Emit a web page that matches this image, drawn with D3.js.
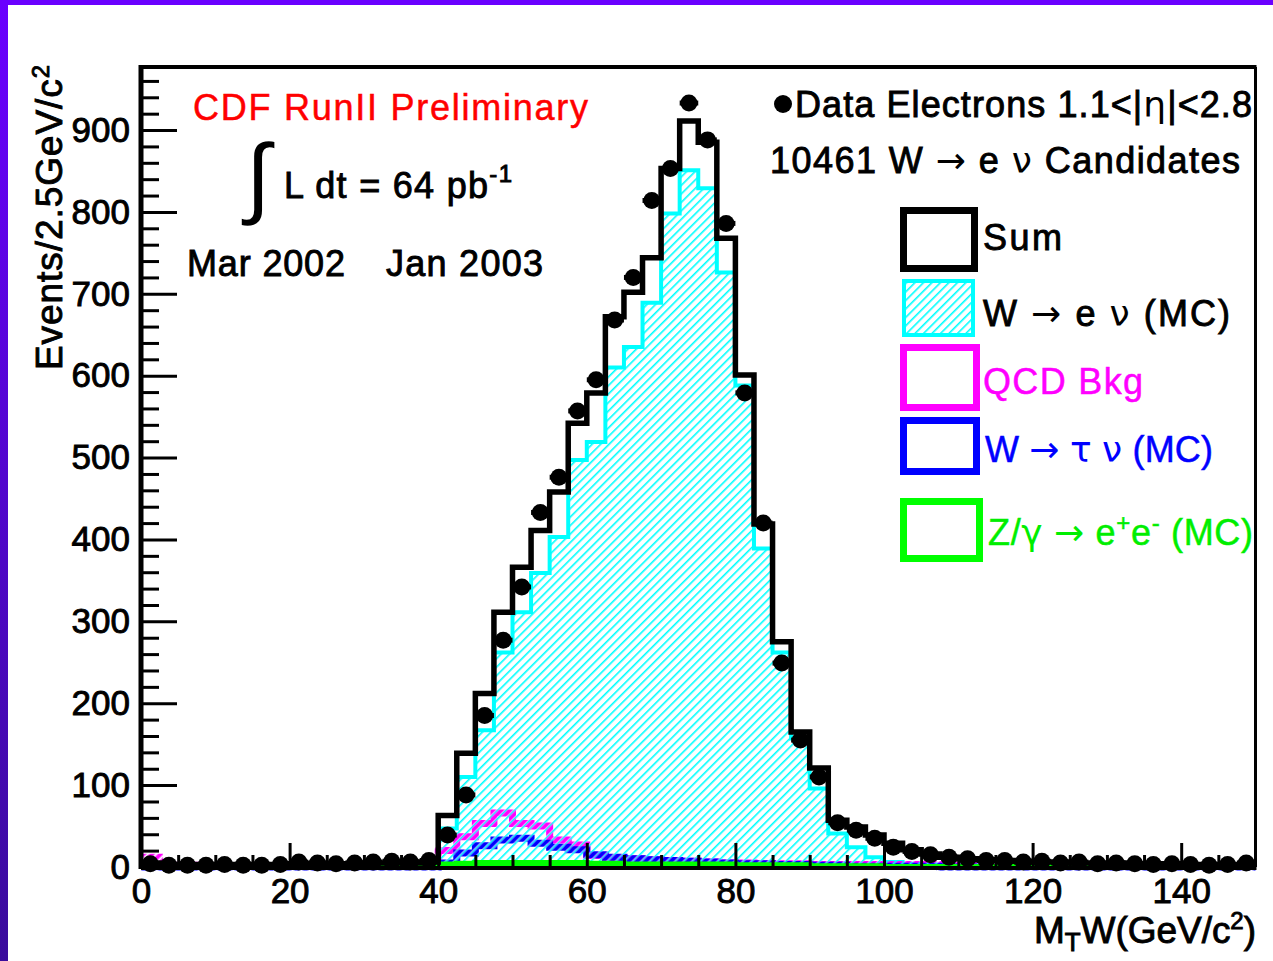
<!DOCTYPE html>
<html><head><meta charset="utf-8">
<script src="https://cdn.jsdelivr.net/npm/d3@7"></script>
<style>
html,body{margin:0;padding:0;background:#fff;}
svg{display:block;}
text{font-family:"Liberation Sans",Arial,Helvetica,sans-serif;}
</style></head><body>
<svg id="chart" width="1273" height="961"></svg>
<script>
// Transverse mass histogram, 2.5 GeV/c^2 bins from 0 to 150
const binWidth = 2.5;
const xDomain = [0, 150];
const yDomain = [0, 977];
const xMajorTicks = [0, 20, 40, 60, 80, 100, 120, 140];
const yMajorTicks = [0, 100, 200, 300, 400, 500, 600, 700, 800, 900];

// Data: electrons 1.1<|eta|<2.8 (events per bin)
const dataCounts = [4,2,2,2,3,2,2,3,6,5,4,5,6,7,6,8,
  39,88,185,277,342,433,476,557,595,668,720,814,853,933,888,786,579,420,249,155,110,54,45,35,
  24,19,15,12,10,8,8,6,7,5,6,4,5,4,3,4,3,2,3,5];
// Sum of predictions
const sumCounts = [5,3,3,3,3,3,3,3,4,4,4,4,5,5,5,6,
  63,139,212,311,366,411,458,542,579,672,702,744,853,911,885,768,601,419,275,165,121,57,49,39,
  29,21,16,12,10,9,8,7,6,6,5,5,5,4,4,4,3,3,3,3];
// W -> e nu (MC)
const wenuCounts = [0,0,0,0,0,0,0,0,1,1,1,1,1,1,1,2,
  47,110,167,262,311,359,403,497,519,610,635,689,798,851,829,726,588,389,262,157,96,41,24,12,
  6,4,3,2,2,1,1,1,1,0,0,0,0,0,0,0,0,0,0,0];
// QCD background
const qcdCounts = [12,2,2,1,1,1,1,1,1,1,2,1,1,2,1,2,
  20,37,53,66,53,50,33,27,14,11,10,9,8,7,6,5,5,4,4,4,3,3,3,3,
  3,3,3,2,2,2,2,2,2,2,2,2,1,1,1,1,1,1,1,1];
// W -> tau nu (MC)
const wtaunuCounts = [0,0,0,0,0,0,0,0,0,0,0,0,0,0,0,0,
  5,17,26,33,35,29,24,21,15,12,10,9,8,7,6,5,4,4,3,3,2,2,1,1,
  1,1,1,0,0,0,0,0,0,0,0,0,0,0,0,0,0,0,0,0];
// Z/gamma -> e+e- (MC)
const zeeCounts = [0,0,0,0,0,0,0,0,0,0,0,0,0,0,0,0,
  3,4,5,5,5,5,5,5,4,4,3,3,3,3,3,3,2,2,2,2,1,1,1,1,
  0,0,0,0,0,0,0,0,0,0,0,0,0,0,0,0,0,0,0,0];

const svg = d3.select('#chart');
const defs = svg.append('defs');

const grad = defs.append('linearGradient').attr('id', 'edgeGrad')
  .attr('x1', 0).attr('y1', 0).attr('x2', 0).attr('y2', 1);
grad.append('stop').attr('offset', '0%').attr('stop-color', '#6a00ff');
grad.append('stop').attr('offset', '100%').attr('stop-color', '#3a0c9c');

// hatch fill for W -> e nu
const hc = defs.append('pattern').attr('id', 'hatchCyan').attr('patternUnits', 'userSpaceOnUse')
  .attr('width', 6).attr('height', 6).attr('patternTransform', 'rotate(45)');
hc.append('rect').attr('width', 6).attr('height', 6).attr('fill', '#fff');
hc.append('rect').attr('width', 1.6).attr('height', 6).attr('fill', '#00ffff');

function stripePattern(id, color) {
  const p = defs.append('pattern').attr('id', id).attr('patternUnits', 'userSpaceOnUse')
    .attr('width', 6).attr('height', 6).attr('patternTransform', 'rotate(45)');
  p.append('rect').attr('x', 1.5).attr('width', 4).attr('height', 6).attr('fill', color);
}
stripePattern('stripeMagenta', '#ff00ff');
stripePattern('stripeBlue', '#0000ff');

// page background and border
svg.append('rect').attr('width', 1273).attr('height', 961).attr('fill', '#fff');
svg.append('rect').attr('x', 0).attr('y', 0).attr('width', 8).attr('height', 961).attr('fill', 'url(#edgeGrad)');
svg.append('rect').attr('x', 0).attr('y', 0).attr('width', 1273).attr('height', 5).attr('fill', '#6a00ff');

const x = d3.scaleLinear().domain(xDomain).range([141, 1255.5]);
const y = d3.scaleLinear().domain(yDomain).range([867, 67]);

const toPoints = vals => {
  const pts = vals.map((v, i) => [i * binWidth, v]);
  pts.push([vals.length * binWidth, vals[vals.length - 1]]);
  return pts;
};
const stepLine = d3.line().curve(d3.curveStepAfter).x(d => x(d[0])).y(d => y(d[1]));
const stepArea = d3.area().curve(d3.curveStepAfter).x(d => x(d[0])).y0(y(0)).y1(d => y(d[1]));

const plot = svg.append('g');

// W -> e nu : hatched area with cyan outline
plot.append('path').attr('d', stepArea(toPoints(wenuCounts))).attr('fill', 'url(#hatchCyan)');
plot.append('path').attr('d', stepLine(toPoints(wenuCounts))).attr('fill', 'none')
  .attr('stroke', '#00ffff').attr('stroke-width', 4);

// backgrounds
plot.append('path').attr('d', stepLine(toPoints(qcdCounts))).attr('fill', 'none')
  .attr('stroke', 'url(#stripeMagenta)').attr('stroke-width', 7);
plot.append('path').attr('d', stepLine(toPoints(wtaunuCounts))).attr('fill', 'none')
  .attr('stroke', 'url(#stripeBlue)').attr('stroke-width', 7);
plot.append('path').attr('d', stepLine(toPoints(zeeCounts))).attr('fill', 'none')
  .attr('stroke', '#00ff00').attr('stroke-width', 6);

// sum
plot.append('path').attr('d', stepLine(toPoints(sumCounts))).attr('fill', 'none')
  .attr('stroke', '#000').attr('stroke-width', 5.5).attr('stroke-linejoin', 'miter');

// data points with bin-width bars
const pts = plot.append('g');
pts.selectAll('line').data(dataCounts).join('line')
  .attr('x1', (d, i) => x(i * binWidth)).attr('x2', (d, i) => x((i + 1) * binWidth))
  .attr('y1', d => y(d)).attr('y2', d => y(d)).attr('stroke', '#000').attr('stroke-width', 5);
pts.selectAll('circle').data(dataCounts).join('circle')
  .attr('cx', (d, i) => x((i + 0.5) * binWidth)).attr('cy', d => y(d)).attr('r', 8.5).attr('fill', '#000');

// axes (ticks inside the frame)
const yMinor = d3.range(20, 977, 20).filter(v => v % 100 !== 0);
const xMinor = d3.range(5, 150, 5).filter(v => v % 20 !== 0);

const yAxis = svg.append('g').attr('transform', `translate(${x(0)},0)`)
  .call(d3.axisLeft(y).tickValues(yMajorTicks).tickSize(-36).tickPadding(11).tickFormat(d3.format('d')));
const yAxisMinor = svg.append('g').attr('transform', `translate(${x(0)},0)`)
  .call(d3.axisLeft(y).tickValues(yMinor).tickSize(-18).tickFormat(''));
const xAxis = svg.append('g').attr('transform', `translate(0,${y(0)})`)
  .call(d3.axisBottom(x).tickValues(xMajorTicks).tickSize(-24).tickPadding(11).tickFormat(d3.format('d')));
const xAxisMinor = svg.append('g').attr('transform', `translate(0,${y(0)})`)
  .call(d3.axisBottom(x).tickValues(xMinor).tickSize(-12).tickFormat(''));

[yAxis, yAxisMinor, xAxis, xAxisMinor].forEach(g => {
  g.select('.domain').remove();
  g.selectAll('.tick line').attr('stroke', '#000').attr('stroke-width', 3);
  g.selectAll('.tick text').attr('font-size', 35).attr('fill', '#000')
    .attr('font-family', '"Liberation Sans",Arial,sans-serif')
    .attr('stroke', '#000').attr('stroke-width', 0.9);
});

// frame
const fr = svg.append('g').attr('stroke', '#000').attr('fill', 'none');
fr.append('line').attr('x1', x(0)).attr('x2', x(150) + 1).attr('y1', y(977)).attr('y2', y(977)).attr('stroke-width', 4);
fr.append('line').attr('x1', x(150)).attr('x2', x(150)).attr('y1', y(977)).attr('y2', y(0)).attr('stroke-width', 3);
fr.append('line').attr('x1', x(0)).attr('x2', x(0)).attr('y1', y(977) - 2).attr('y2', y(0) + 2).attr('stroke-width', 5);
fr.append('line').attr('x1', x(0)).attr('x2', x(150) + 1).attr('y1', y(0) + 1).attr('y2', y(0) + 1).attr('stroke-width', 4);

// text helper
function label(px, py, parts, opts) {
  const t = svg.append('text').attr('x', px).attr('y', py)
    .attr('font-size', opts.size).attr('fill', opts.color || '#000')
    .attr('stroke', opts.color || '#000').attr('stroke-width', opts.thick === undefined ? 0.9 : opts.thick)
    .attr('text-anchor', opts.anchor || 'start');
  if (opts.length) t.attr('textLength', opts.length).attr('lengthAdjust', 'spacing');
  if (opts.transform) t.attr('transform', opts.transform);
  parts.forEach(p => {
    const s = typeof p === 'string' ? { t: p } : p;
    const ts = t.append('tspan').text(s.t);
    if (s.dy) ts.attr('dy', s.dy);
    if (s.fs) ts.attr('font-size', s.fs);
    if (s.thin) ts.attr('stroke-width', 0).attr('font-family', '"DejaVu Sans",sans-serif');
  });
  return t;
}

// axis titles
label(0, 0, ['Events/2.5GeV/c', { t: '2', dy: -13, fs: 24 }],
  { size: 37, anchor: 'end', length: 305, transform: 'translate(62,65) rotate(-90)' });
label(1256, 943, ['M', { t: 'T', dy: 8, fs: 26 }, { t: 'W(GeV/c', dy: -8 }, { t: '2', dy: -14, fs: 24 }, { t: ')', dy: 14 }],
  { size: 37, anchor: 'end', length: 222 });

// annotations
label(193, 120, ['CDF RunII Preliminary'], { size: 36, color: '#ff0000', length: 395, thick: 0.5 });
label(258, 206, ['\u222B'], { size: 88, anchor: 'middle', thick: 0 })
  .attr('font-family', '"Liberation Serif",serif').attr('font-style', 'italic');
label(284, 198, ['L dt = 64 pb', { t: '-1', dy: -16, fs: 24 }], { size: 36, length: 228 });
label(187, 276, ['Mar 2002'], { size: 36, length: 158 });
label(386, 276, ['Jan 2003'], { size: 36, length: 157 });

// legend
svg.append('circle').attr('cx', 783).attr('cy', 104).attr('r', 9).attr('fill', '#000');
label(795, 117, ['Data Electrons 1.1<|', { t: '\u03B7', thin: true }, '|<2.8'], { size: 36, length: 457 });
label(770, 173, ['10461 W ', { t: '\u2192', thin: true }, ' e ', { t: '\u03BD', thin: true }, ' Candidates'], { size: 36, length: 470 });

const legendBoxes = [
  { x0: 903.5, y0: 210.5, x1: 974.5, y1: 268.5, stroke: '#000', w: 7, fill: '#fff' },
  { x0: 904, y0: 281, x1: 973, y1: 335, stroke: '#00ffff', w: 4, fill: 'url(#hatchCyan)' },
  { x0: 903.5, y0: 347.5, x1: 976.5, y1: 407.5, stroke: '#ff00ff', w: 7, fill: '#fff' },
  { x0: 903.5, y0: 420.5, x1: 976.5, y1: 471.5, stroke: '#0000ff', w: 7, fill: '#fff' },
  { x0: 903.5, y0: 501.5, x1: 979.5, y1: 558.5, stroke: '#00ff00', w: 7, fill: '#fff' }
];
svg.append('g').selectAll('rect').data(legendBoxes).join('rect')
  .attr('x', d => d.x0).attr('y', d => d.y0)
  .attr('width', d => d.x1 - d.x0).attr('height', d => d.y1 - d.y0)
  .attr('fill', d => d.fill).attr('stroke', d => d.stroke).attr('stroke-width', d => d.w);

label(983, 250, ['Sum'], { size: 36, length: 79 });
label(983, 326, ['W ', { t: '\u2192', thin: true }, '  e ', { t: '\u03BD', thin: true }, ' (MC)'], { size: 36, length: 247 });
label(983, 394, ['QCD Bkg'], { size: 36, color: '#ff00ff', length: 160, thick: 0.5 });
label(985, 462, ['W ', { t: '\u2192', thin: true }, ' ', { t: '\u03C4', thin: true }, ' ', { t: '\u03BD', thin: true }, ' (MC)'],
  { size: 36, color: '#0000ff', length: 228, thick: 0.5 });
label(988, 545, ['Z/', { t: '\u03B3', thin: true }, ' ', { t: '\u2192', thin: true }, ' e', { t: '+', dy: -14, fs: 24 }, { t: 'e', dy: 14 }, { t: '-', dy: -14, fs: 24 }, { t: ' (MC)', dy: 14 }],
  { size: 36, color: '#00ee00', length: 265, thick: 0.5 });
</script>
</body></html>
